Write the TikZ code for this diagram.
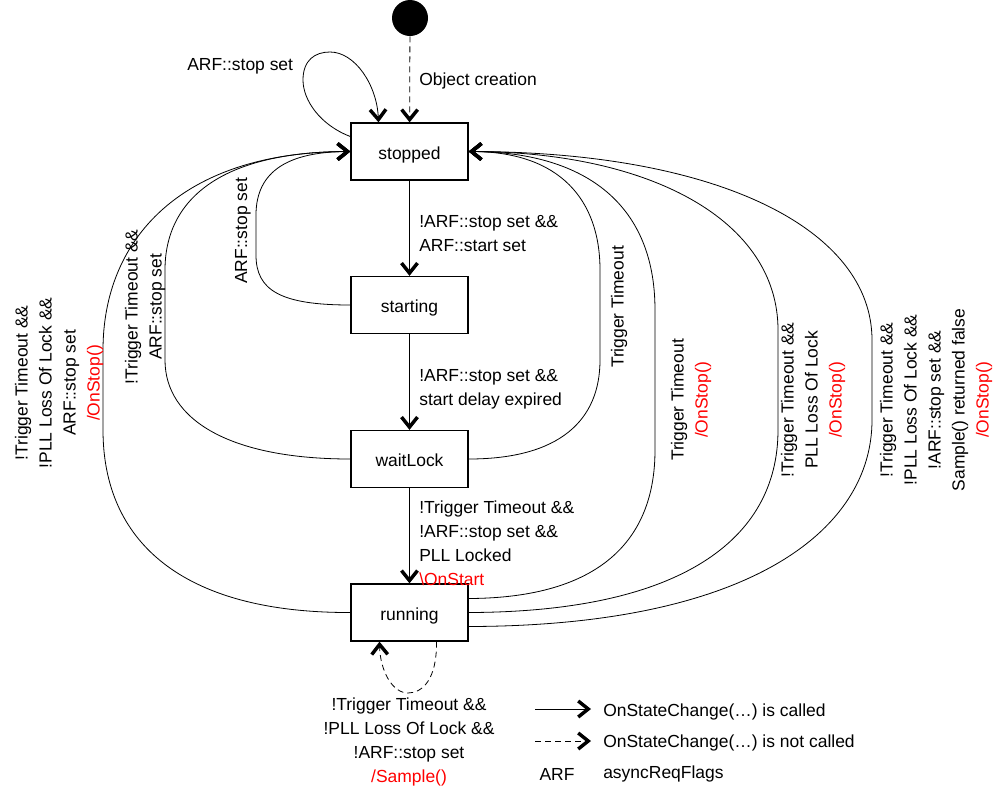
\documentclass[tikz,border=0pt]{standalone}
\usepackage{fontspec}
\setmainfont{Liberation Sans}
\usetikzlibrary{arrows.meta}
\begin{document}
\begin{tikzpicture}[x=0.75pt,y=-0.75pt,
  every node/.style={font=\fontsize{13.1}{18}\selectfont},
  state/.style={draw,line width=1pt,minimum width=87.75pt,minimum height=42.75pt,inner sep=0pt,text height=14.5pt,text depth=2.7pt},
  lbl/.style={inner sep=0pt,align=left},
  vlbl/.style={inner sep=0pt,align=center,rotate=90},
  edge/.style={line width=0.6pt,-{Straight Barb[length=7.5pt,width=12pt,line width=2.6pt]}},
  dedge/.style={edge,dash pattern=on 4.5pt off 3pt}]
\useasboundingbox (0,0) rectangle (1000,794);

\node[circle,fill,inner sep=0pt,minimum size=27pt] (init) at (410,18) {};
\node[state] (stopped) at (409.5,151.5) {stopped};
\node[state] (starting) at (409.5,305) {starting};
\node[state] (waitlock) at (409.5,459) {waitLock};
\node[state] (running) at (409.5,612.5) {running};

\draw[dedge] (init) -- (stopped);
\draw[edge] (stopped) -- (starting);
\draw[edge] (starting) -- (waitlock);
\draw[edge] (waitlock) -- (running);

% stopped self loop
\draw[edge] ([yshift=11.25pt]stopped.west) .. controls (320,125) and (303,100) .. (303,80)
  .. controls (303,60) and (315,52) .. (330,52) .. controls (355,52) and (377,85) .. ([xshift=-23.25pt]stopped.north);

% left curves
\draw[edge] (starting.west) .. controls (280,305) and (256,290) .. (256,255) -- (256,215)
  .. controls (256,170) and (290,152) .. (stopped.west);
\draw[edge] (waitlock.west) .. controls (230,459) and (165,420) .. (165,360) -- (165,270)
  .. controls (165,200) and (220,152) .. (stopped.west);
\draw[edge] (running.west) .. controls (180,613) and (103,540) .. (103,430) -- (103,350)
  .. controls (103,240) and (180,152) .. (stopped.west);

% right curves
\draw[edge] (waitlock.east) .. controls (560,459) and (600,420) .. (600,360) -- (600,270)
  .. controls (600,200) and (560,152) .. (stopped.east);
\draw[edge] ([yshift=10.5pt]running.east) .. controls (600,598) and (655,540) .. (655,450) -- (655,310)
  .. controls (655,200) and (580,152) .. (stopped.east);
\draw[edge] (running.east) .. controls (680,612) and (778,540) .. (778,430) -- (778,330)
  .. controls (778,220) and (650,152) .. (stopped.east);
\draw[edge] ([yshift=-10.5pt]running.east) .. controls (750,626) and (872,530) .. (872,420) -- (872,340)
  .. controls (872,230) and (720,152) .. (stopped.east);

% running self loop
\draw[dedge] ([xshift=20.25pt]running.south) .. controls (437,680) and (422,693) .. (408,693)
  .. controls (392,693) and (380,670) .. ([xshift=-22.5pt]running.south);

% labels
\node[lbl,anchor=west] (lobj) at (419,81) {Object creation};
\node[lbl,anchor=west] (lloop) at (187,66) {ARF::stop set};
\node[lbl,anchor=west] (l1) at (419,234) {!ARF::stop set \&\&\\ARF::start set};
\node[lbl,anchor=west] (l2) at (419,389) {!ARF::stop set \&\&\\start delay expired};
\node[lbl,anchor=west] (l3) at (419,543) {!Trigger Timeout \&\&\\!ARF::stop set \&\&\\PLL Locked\\\textcolor{red}{\textbackslash OnStart}};

\node[vlbl] (lA) at (243,231) {ARF::stop set};
\node[vlbl] (lB) at (145,307) {!Trigger Timeout \&\&\\ARF::stop set};
\node[vlbl] (lC) at (59,383) {!Trigger Timeout \&\&\\!PLL Loss Of Lock \&\&\\ARF::stop set\\\textcolor{red}{/OnStop()}};
\node[vlbl] (lD) at (619,307) {Trigger Timeout};
\node[vlbl] (lE) at (691,400) {Trigger Timeout\\\textcolor{red}{/OnStop()}};
\node[vlbl] (lF) at (813,400) {!Trigger Timeout \&\&\\PLL Loss Of Lock\\\textcolor{red}{/OnStop()}};
\node[vlbl] (lG) at (936,400) {!Trigger Timeout \&\&\\!PLL Loss Of Lock \&\&\\!ARF::stop set \&\&\\Sample() returned false\\\textcolor{red}{/OnStop()}};

\node[inner sep=0pt,align=center] (lS) at (409,742) {!Trigger Timeout \&\&\\!PLL Loss Of Lock \&\&\\!ARF::stop set\\\textcolor{red}{/Sample()}};

% legend
\coordinate (a1) at (535,709); \coordinate (a2) at (591,709);
\draw[edge] (a1) -- (a2);
\coordinate (b1) at (535,741); \coordinate (b2) at (591,741);
\draw[dedge] (b1) -- (b2);
\node[lbl,anchor=west] (t1) at (603,712) {OnStateChange(…) is called};
\node[lbl,anchor=west] (t2) at (603,743) {OnStateChange(…) is not called};
\node[lbl] (t3) at (557,774) {ARF};
\node[lbl,anchor=west] (t4) at (603,774) {asyncReqFlags};
\end{tikzpicture}
\end{document}
